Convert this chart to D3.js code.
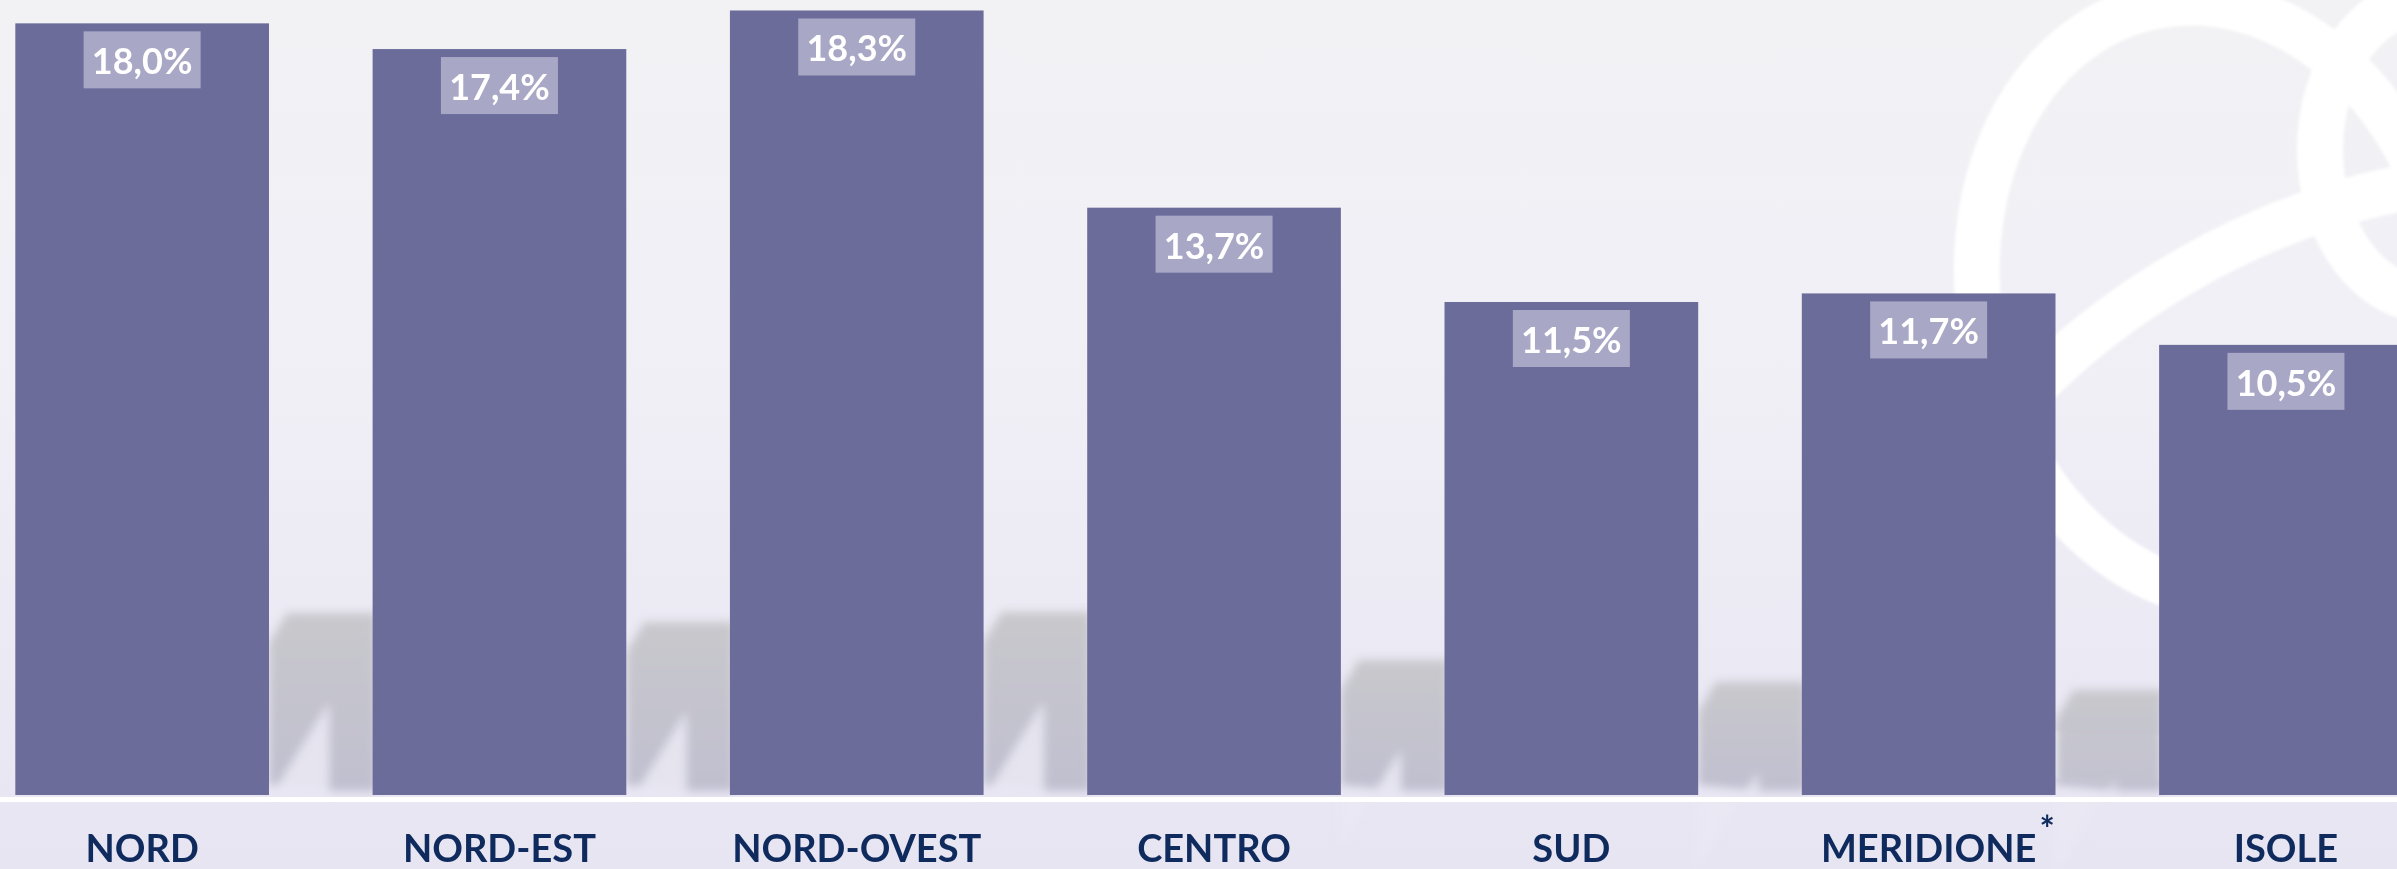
<!DOCTYPE html>
<html>
<head>
<meta charset="utf-8">
<script src="https://cdn.jsdelivr.net/npm/d3@7"></script>
<style>
  html, body { margin: 0; padding: 0; overflow: hidden; }
  #chart-container { width: 2397px; height: 869px; }
</style>
</head>
<body>
<div id="chart-container"></div>
<script>
const regions = ["NORD", "NORD-EST", "NORD-OVEST", "CENTRO", "SUD", "MERIDIONE", "ISOLE"];
const shares = [18.0, 17.4, 18.3, 13.7, 11.5, 11.7, 10.5];
const notes = ["", "", "", "", "", "*", ""];

const width = 2397, height = 869;
const baseline = 795;

const fmt = v => v.toFixed(1).replace(".", ",") + "%";

const svg = d3.select("#chart-container")
    .append("svg")
    .attr("width", width)
    .attr("height", height);

const defs = svg.append("defs");
const bg = defs.append("linearGradient")
    .attr("id", "bg").attr("x1", 0).attr("y1", 0).attr("x2", 0).attr("y2", 1);
bg.append("stop").attr("offset", "0%").attr("stop-color", "#f2f2f5");
bg.append("stop").attr("offset", "45%").attr("stop-color", "#f0eff6");
bg.append("stop").attr("offset", "100%").attr("stop-color", "#e7e5f2");

const shade = defs.append("linearGradient")
    .attr("id", "shade").attr("x1", 0).attr("y1", 0).attr("x2", 0).attr("y2", 1);
shade.append("stop").attr("offset", "0%").attr("stop-color", "#c4c4c8");
shade.append("stop").attr("offset", "100%").attr("stop-color", "#bcbbcc");

defs.append("filter").attr("id", "blur")
    .append("feGaussianBlur").attr("stdDeviation", 5);
defs.append("filter").attr("id", "soft")
    .append("feGaussianBlur").attr("stdDeviation", 1.5);

svg.append("rect")
    .attr("width", width)
    .attr("height", height)
    .attr("fill", "url(#bg)");

// white rings of the background logo
const rings = svg.append("g")
    .attr("fill", "none")
    .attr("stroke", "#ffffff")
    .attr("stroke-width", 46)
    .attr("filter", "url(#soft)");
rings.append("ellipse")
    .attr("transform", "translate(2215,300) rotate(-12)")
    .attr("rx", 235).attr("ry", 300);
rings.append("ellipse")
    .attr("transform", "translate(2300,470) rotate(-30)")
    .attr("rx", 420).attr("ry", 230);
rings.append("ellipse")
    .attr("transform", "translate(2430,150)")
    .attr("rx", 110).attr("ry", 150);

const x = d3.scaleBand()
    .domain(regions)
    .range([-36.5, 2464.6])
    .paddingInner(0.29)
    .paddingOuter(0.145);

const y = d3.scaleLinear()
    .domain([0, 20])
    .range([baseline, -62.4]);

// grey floor shadows seen between the bars
const shadowTops = [613, 622, 612, 660, 682, 690];
const shadows = svg.append("g").attr("filter", "url(#blur)");
regions.slice(0, -1).forEach((r, i) => {
    const gl = x(r) + x.bandwidth();
    const gr = x(regions[i + 1]);
    const t = shadowTops[i];
    shadows.append("path")
        .attr("d", `M${gl + 18},${t} L${gr + 4},${t} L${gr + 4},${baseline - 4}
                    L${gr - 40},${baseline - 4} L${gl},${baseline - 10} L${gl},${t + 30} Z`)
        .attr("fill", "url(#shade)")
        .attr("opacity", 0.9);
    shadows.append("path")
        .attr("d", `M${gl - 2},${baseline - 2} L${gl - 2},${t + 190} L${gl + 60},${t + 90} L${gl + 60},${baseline - 2} Z`)
        .attr("fill", "#e9e8f3")
        .attr("opacity", 0.9);
});

svg.append("g")
    .selectAll("rect")
    .data(regions)
    .join("rect")
    .attr("x", d => x(d))
    .attr("y", (d, i) => y(shares[i]))
    .attr("width", x.bandwidth())
    .attr("height", (d, i) => baseline - y(shares[i]))
    .attr("fill", "#6c6c9b");

// value labels in lighter boxes
const boxW = 117, boxH = 57;
const vals = svg.append("g");
vals.selectAll("rect")
    .data(regions)
    .join("rect")
    .attr("x", d => x(d) + x.bandwidth() / 2 - boxW / 2)
    .attr("y", (d, i) => y(shares[i]) + 8)
    .attr("width", boxW)
    .attr("height", boxH)
    .attr("fill", "#a8a7c6");
vals.selectAll("text")
    .data(regions)
    .join("text")
    .attr("x", d => x(d) + x.bandwidth() / 2)
    .attr("y", (d, i) => y(shares[i]) + 8 + 43)
    .attr("text-anchor", "middle")
    .style("font-family", "Lato, 'Open Sans', sans-serif")
    .style("font-weight", "bold")
    .style("font-size", "36px")
    .style("fill", "#ffffff")
    .text((d, i) => fmt(shares[i]));

// white baseline
svg.append("rect")
    .attr("x", 0)
    .attr("y", baseline + 2)
    .attr("width", width)
    .attr("height", 5)
    .attr("fill", "#ffffff");

const labels = svg.append("g")
    .style("font-family", "Lato, 'Open Sans', sans-serif")
    .style("font-weight", "bold")
    .style("fill", "#0f2a5c");

labels.selectAll("text.cat")
    .data(regions)
    .join("text")
    .attr("class", "cat")
    .attr("x", d => x(d) + x.bandwidth() / 2)
    .attr("y", 862)
    .attr("text-anchor", "middle")
    .style("font-size", "38px")
    .text(d => d)
    .each(function(d, i) {
        if (!notes[i]) return;
        const w = this.getComputedTextLength();
        labels.append("text")
            .attr("x", x(d) + x.bandwidth() / 2 + w / 2 + 3)
            .attr("y", 842)
            .style("font-size", "36px")
            .text(notes[i]);
    });
</script>
</body>
</html>
